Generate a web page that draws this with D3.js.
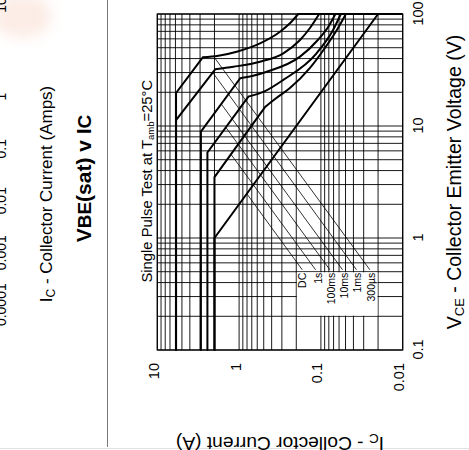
<!DOCTYPE html>
<html>
<head>
<meta charset="utf-8">
<script src="https://cdn.jsdelivr.net/npm/d3@7"></script>
<style>
  html, body { margin: 0; padding: 0; background: #fff; }
  svg { display: block; }
  text { font-family: "Liberation Sans", Arial, Helvetica, sans-serif; fill: #000; }
</style>
</head>
<body>
<svg id="chart" width="469" height="450"></svg>
<script>
// ---- Axis ranges and tick labels -------------------------------------------
const vceDomain = [0.1, 100];
const icDomain = [10, 0.01];
const vceTicks = [0.1, 1, 10, 100];
const vceTickText = ["0.1", "1", "10", "100"];
const icTicks = [10, 1, 0.1, 0.01];
const icTickText = ["10", "1", "0.1", "0.01"];

// Neighbouring VBE(sat) v IC panel: its IC tick labels
const vbeTicks = [10, 1, 0.1, 0.01, 0.001, 0.0001];
const vbeTickText = ["10", "1", "0.1", "0.01", "0.001", "0.0001"];

// ---- Safe operating area boundaries, points are [VCE (V), IC (A)] ----------
// "Straight" = current limit + constant power; "Bend" = second breakdown
const dcStraight = [[0.1, 2], [1, 2], [100, 0.02]];
const dcBend = [];
const s1Straight = [[0.1, 2], [3.5, 2], [14.8, 0.48]];
const s1Bend = [[14.8, 0.48], [17.5, 0.36], [21.8, 0.239], [33, 0.136], [49.7, 0.0894], [72, 0.0638], [100, 0.0495]];
const ms100Straight = [[0.1, 2.44], [5.8, 2.44], [18.3, 0.77]];
const ms100Bend = [[18.3, 0.77], [20.5, 0.482], [25.8, 0.288], [44.6, 0.113], [72, 0.071], [100, 0.057]];
const ms10Straight = [[0.1, 2.93], [8.9, 2.93], [26.7, 0.97]];
const ms10Bend = [[26.7, 0.97], [27.9, 0.693], [30.5, 0.459], [41.6, 0.18], [58.6, 0.109], [78.2, 0.08], [100, 0.0665]];
const ms1Straight = [[0.1, 5.9], [11.3, 5.9], [32.1, 1.96]];
const ms1Bend = [[32.1, 1.96], [33.8, 1.17], [37.5, 0.555], [44.6, 0.288], [58.6, 0.18], [75, 0.136], [100, 0.105]];
const us300Straight = [[0.1, 5.9], [19.7, 5.9], [41, 2.78]];
const us300Bend = [[41, 2.78], [42.4, 1.79], [46.1, 1.07], [54.7, 0.555], [69.5, 0.316], [82.6, 0.239], [100, 0.189]];
const vceoLimit = [[100, 0.189], [100, 0.01]];

// ---- Pulse-width key ---------------------------------------------------------
const pulseLabels = ["DC", "1s", "100ms", "10ms", "1ms", "300µs"];
const labelIc = [0.15, 0.098, 0.068, 0.047, 0.032, 0.022];
const labelVce = 0.49;
const leaderFrom = [[2.5, 0.81], [5.6, 1.26], [9.7, 1.45], [15.7, 1.65], [30, 2.1], [42, 2.06]];
const leaderToIc = [0.169, 0.116, 0.0776, 0.0543, 0.0367, 0.0252];
const leaderToVce = 0.52;
const keyBoxIc = [0.2, 0.02];
const keyBoxVce = [0.2, 0.5];

const boundaries = [
  { name: "DC", straight: dcStraight, bend: dcBend },
  { name: "1s", straight: s1Straight, bend: s1Bend },
  { name: "100ms", straight: ms100Straight, bend: ms100Bend },
  { name: "10ms", straight: ms10Straight, bend: ms10Bend },
  { name: "1ms", straight: ms1Straight, bend: ms1Bend },
  { name: "300µs", straight: us300Straight, bend: us300Bend }
];

const svg = d3.select("#chart");
svg.append("rect").attr("width", 469).attr("height", 450).attr("fill", "#fff");

// faint stain in the top-left corner of the sheet
const defs = svg.append("defs");
defs.append("filter").attr("id", "soft").attr("x", "-50%").attr("y", "-50%")
  .attr("width", "200%").attr("height", "200%")
  .append("feGaussianBlur").attr("stdDeviation", 7);
svg.append("ellipse")
  .attr("cx", 22).attr("cy", 16).attr("rx", 30).attr("ry", 22)
  .attr("fill", "#f9ddd0").attr("opacity", 0.55).attr("filter", "url(#soft)");

// ---- Edge of the neighbouring panel -----------------------------------------
const side = svg.append("g");
const vbeScale = d3.scaleLog().domain([0.0001, 1, 10]).range([304.7, 96.7, 5]);
side.selectAll("text.vbe-tick").data(vbeTicks).join("text")
  .attr("class", "vbe-tick")
  .attr("transform", d => `translate(6,${vbeScale(d)}) rotate(-90)`)
  .attr("text-anchor", "middle")
  .attr("font-size", 14)
  .text((d, i) => vbeTickText[i]);

const sideAxisTitle = side.append("text")
  .attr("transform", "translate(51.5,194) rotate(-90)")
  .attr("text-anchor", "middle")
  .attr("font-size", 17);
sideAxisTitle.append("tspan").text("I");
sideAxisTitle.append("tspan").attr("font-size", 12).attr("dy", 3).text("C");
sideAxisTitle.append("tspan").attr("dy", -3).text(" - Collector Current (Amps)");

const sideTitle = side.append("text")
  .attr("transform", "translate(90.5,178.5) rotate(-90)")
  .attr("text-anchor", "middle")
  .attr("font-size", 21)
  .attr("font-weight", "bold");
sideTitle.append("tspan").text("V");
sideTitle.append("tspan").attr("font-size", 19).text("BE");
sideTitle.append("tspan").text("(sat) v I");
sideTitle.append("tspan").attr("font-size", 19).text("C");

side.append("line")
  .attr("x1", 107.5).attr("x2", 107.5).attr("y1", 0).attr("y2", 447)
  .attr("stroke", "#777").attr("stroke-width", 1);
svg.append("line")
  .attr("x1", 0).attr("x2", 469).attr("y1", 448.5).attr("y2", 448.5)
  .attr("stroke", "#e2e2e2").attr("stroke-width", 1);

// ---- SOA chart, drawn in its own frame and turned a quarter turn -----------
const W = 336, H = 245.4;
const g = svg.append("g").attr("transform", "translate(157.3,350) rotate(-90)");
const x = d3.scaleLog().domain(vceDomain).range([0, W]);
const y = d3.scaleLog().domain(icDomain).range([0, H]);

// log grid
const grid = g.append("g").attr("stroke", "#000").attr("stroke-width", 0.9);
grid.selectAll("line.gv").data(x.ticks()).join("line")
  .attr("class", "gv")
  .attr("x1", d => x(d)).attr("x2", d => x(d))
  .attr("y1", 0).attr("y2", H);
grid.selectAll("line.gh").data(y.ticks()).join("line")
  .attr("class", "gh")
  .attr("x1", 0).attr("x2", W)
  .attr("y1", d => y(d)).attr("y2", d => y(d));

// blank panel behind the pulse-width key
g.append("rect")
  .attr("x", x(keyBoxVce[0]) + 0.6)
  .attr("y", y(keyBoxIc[0]) + 0.6)
  .attr("width", x(keyBoxVce[1]) - x(keyBoxVce[0]) - 1.2)
  .attr("height", y(keyBoxIc[1]) - y(keyBoxIc[0]) - 1.2)
  .attr("fill", "#fff");

// frame
g.append("rect").attr("width", W).attr("height", H)
  .attr("fill", "none").attr("stroke", "#000").attr("stroke-width", 1.2);

// axes
const fontFamily = '"Liberation Sans", Arial, Helvetica, sans-serif';
const vceAxis = d3.axisBottom(x).tickValues(vceTicks)
  .tickFormat((d, i) => vceTickText[i]).tickSize(0).tickPadding(10);
g.append("g").attr("transform", `translate(0,${H})`).call(vceAxis)
  .attr("font-size", 14.5).attr("font-family", fontFamily)
  .call(a => a.select(".domain").remove());

const icAxis = d3.axisLeft(y).tickValues(icTicks)
  .tickFormat((d, i) => icTickText[i]).tickSize(0).tickPadding(13);
g.append("g").call(icAxis)
  .attr("font-size", 14.5).attr("font-family", fontFamily)
  .call(a => a.select(".domain").remove())
  .call(a => a.selectAll("text").attr("dy", "0.07em"));

// boundary curves
const straightLine = d3.line().x(d => x(d[0])).y(d => y(d[1]));
const bendLine = d3.line().x(d => x(d[0])).y(d => y(d[1])).curve(d3.curveMonotoneY);
g.append("g").selectAll("path.soa").data(boundaries).join("path")
  .attr("class", "soa")
  .attr("d", d => straightLine(d.straight) + (d.bend.length ? bendLine(d.bend) : ""))
  .attr("fill", "none").attr("stroke", "#000").attr("stroke-width", 2)
  .attr("stroke-linecap", "round").attr("stroke-linejoin", "miter");
g.append("path").attr("d", straightLine(vceoLimit))
  .attr("fill", "none").attr("stroke", "#000").attr("stroke-width", 2);

// key: leader lines and labels
g.append("g").selectAll("line.leader").data(pulseLabels).join("line")
  .attr("class", "leader")
  .attr("x1", (d, i) => x(leaderFrom[i][0])).attr("y1", (d, i) => y(leaderFrom[i][1]))
  .attr("x2", x(leaderToVce)).attr("y2", (d, i) => y(leaderToIc[i]))
  .attr("stroke", "#000").attr("stroke-width", 0.8);
g.append("g").selectAll("text.key").data(pulseLabels).join("text")
  .attr("class", "key")
  .attr("x", x(labelVce)).attr("y", (d, i) => y(labelIc[i]))
  .attr("text-anchor", "end").attr("font-size", 10.5)
  .text(d => d);

// test condition note
const note = g.append("text")
  .attr("x", x(0.4)).attr("y", -5.3)
  .attr("font-size", 14.8);
note.append("tspan").text("Single Pulse Test at T");
note.append("tspan").attr("font-size", 9.5).attr("dy", 2).text("amb");
note.append("tspan").attr("dy", -2).text("=25°C");

// axis titles
const vceTitle = g.append("text")
  .attr("x", W / 2).attr("y", 303.7)
  .attr("text-anchor", "middle").attr("font-size", 19.5);
vceTitle.append("tspan").text("V");
vceTitle.append("tspan").attr("font-size", 13).attr("dy", 3).text("CE");
vceTitle.append("tspan").attr("dy", -3).text(" - Collector Emitter Voltage (V)");

const icTitle = g.append("text")
  .attr("transform", `translate(-86.5,${H / 2}) rotate(-90)`)
  .attr("text-anchor", "middle").attr("font-size", 19.2);
icTitle.append("tspan").text("I");
icTitle.append("tspan").attr("font-size", 13.5).attr("dy", 3).text("C");
icTitle.append("tspan").attr("dy", -3).text(" - Collector Current (A)");
</script>
</body>
</html>
